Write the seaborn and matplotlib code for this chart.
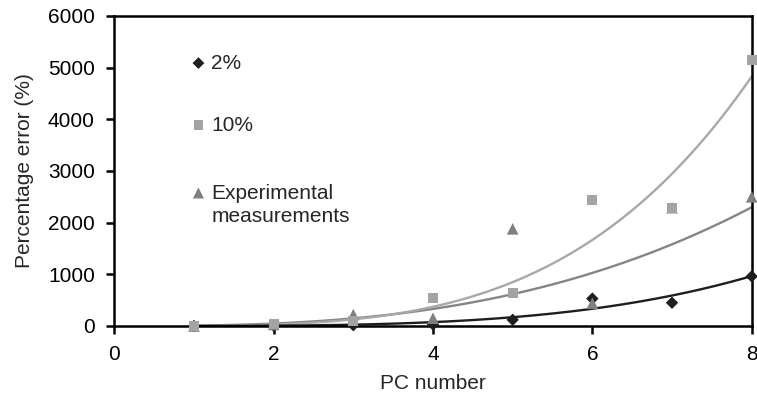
import numpy as np
import pandas as pd
import matplotlib
matplotlib.use('Agg')
import matplotlib.pyplot as plt
import seaborn as sns

# data
pc = [1, 2, 3, 4, 5, 6, 7, 8]
err_2pct = [0, 5, 15, 30, 120, 530, 450, 960]
err_10pct = [0, 40, 90, 540, 645, 2440, 2280, 5140]
err_exp = [0, 30, 220, 150, 1880, 440, 2290, 2500]

# power-law trend lines (y = a * x^b)
trend_a = {'2%': 0.44, '10%': 2.2, 'Experimental measurements': 6.8}
trend_b = {'2%': 3.7, '10%': 3.7, 'Experimental measurements': 2.8}

series = ['2%', '10%', 'Experimental measurements']
marker_clr = {'2%': '#1e1e1e', '10%': '#a3a3a3', 'Experimental measurements': '#7f7f7f'}
line_clr = {'2%': '#1e1e1e', '10%': '#a8a8a8', 'Experimental measurements': '#858585'}
markers = {'2%': 'D', '10%': 's', 'Experimental measurements': '^'}
sizes = {'2%': 40, '10%': 50, 'Experimental measurements': 70}

df = pd.DataFrame({
    'pc': pc * 3,
    'err': err_2pct + err_10pct + err_exp,
    'series': ['2%'] * 8 + ['10%'] * 8 + ['Experimental measurements'] * 8,
})

xs = np.linspace(1, 8, 200)
trend = pd.concat([
    pd.DataFrame({'pc': xs, 'err': trend_a[s] * xs ** trend_b[s], 'series': s})
    for s in series
])

sns.set_style('white')
plt.rcParams['font.family'] = ['Liberation Sans', 'DejaVu Sans']
FS = 15

fig, ax = plt.subplots(figsize=(7.57, 3.99), dpi=100)
fig.subplots_adjust(left=0.151, right=0.993, top=0.96, bottom=0.183)

for s in ['Experimental measurements', '10%', '2%']:
    sub = trend[trend['series'] == s]
    sns.lineplot(data=sub, x='pc', y='err', color=line_clr[s], lw=1.7, ax=ax,
                 legend=False)

for s in ['2%', 'Experimental measurements', '10%']:
    sub = df[df['series'] == s]
    sns.scatterplot(data=sub, x='pc', y='err', marker=markers[s], s=sizes[s],
                    color=marker_clr[s], edgecolor='none', ax=ax, legend=False,
                    clip_on=False, zorder=5)

ax.set_xlim(0, 8)
ax.set_ylim(0, 6000)
ax.set_xticks([0, 2, 4, 6, 8])
ax.set_yticks(range(0, 6001, 1000))
ax.set_xlabel('PC number', fontsize=FS, labelpad=7)
ax.set_ylabel('Percentage error (%)', fontsize=FS, labelpad=10)
ax.tick_params(axis='both', labelsize=FS, direction='out', length=6,
               width=1.8, pad=8, colors='black', left=True, bottom=True)
for sp in ax.spines.values():
    sp.set_linewidth(1.8)
    sp.set_color('black')

# manual legend, placed like the original
leg_x, txt_x = 0.132, 0.152
for s, y in [('2%', 0.848), ('10%', 0.648), ('Experimental measurements', 0.429)]:
    ax.scatter([leg_x], [y], marker=markers[s], s=sizes[s] * 0.9,
               color=marker_clr[s], edgecolor='none', transform=ax.transAxes)
ax.text(txt_x, 0.848, '2%', transform=ax.transAxes, va='center', fontsize=FS)
ax.text(txt_x, 0.648, '10%', transform=ax.transAxes, va='center', fontsize=FS)
ax.text(txt_x, 0.39, 'Experimental\nmeasurements', transform=ax.transAxes,
        va='center', fontsize=FS, linespacing=1.3)

plt.savefig('out.png', dpi=100)
plt.close()
